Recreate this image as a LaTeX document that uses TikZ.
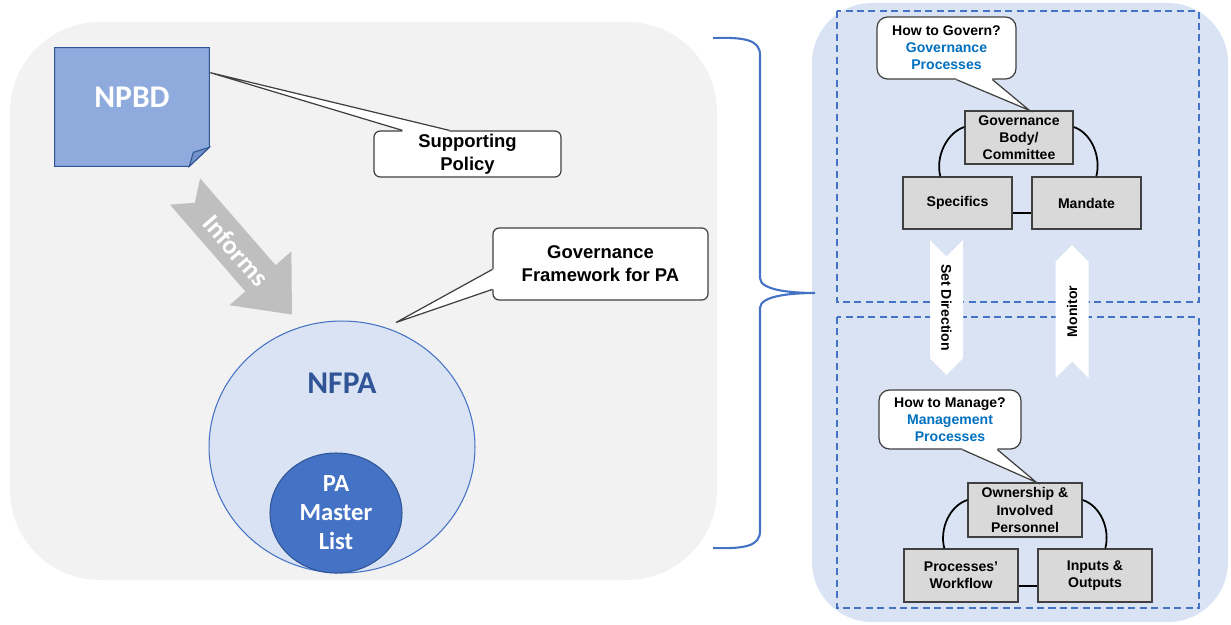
\documentclass[tikz,border=0pt]{standalone}
\usepackage{fontspec}
\setmainfont{Liberation Sans}
\newfontfamily\calibri{Carlito}
\usetikzlibrary{shapes.geometric,shapes.symbols,calc}

\definecolor{panelgray}{HTML}{F2F2F2}
\definecolor{panelblue}{HTML}{DAE3F3}
\definecolor{notefill}{HTML}{8FAADC}
\definecolor{foldblue}{HTML}{7391CB}
\definecolor{darkblue}{HTML}{2F5597}
\definecolor{midblue}{HTML}{4472C4}
\definecolor{procblue}{HTML}{0070C0}
\definecolor{boxgray}{HTML}{D9D9D9}
\definecolor{edgegray}{HTML}{404040}
\definecolor{arrowgray}{HTML}{BFBFBF}

\begin{document}
\begin{tikzpicture}[
    x=0.02cm, y=-0.02cm,
    callbox/.style={
        rectangle,
        draw=edgegray,
        line width=0.7pt,
        fill=white,
        rounded corners=3.5pt,
        inner sep=0pt,
        align=center
    },
    bigcall/.style={callbox, font=\bfseries\fontsize{10.5}{13}\selectfont},
    smallcall/.style={callbox, rounded corners=6pt, font=\bfseries\fontsize{8}{9.7}\selectfont},
    procbox/.style={
        rectangle,
        draw=edgegray,
        line width=0.8pt,
        fill=boxgray,
        inner sep=0pt,
        align=center,
        font=\bfseries\fontsize{8}{9.7}\selectfont
    },
    pointer/.style={draw=edgegray, line width=0.7pt, line join=miter},
    ring/.style={line width=1pt},
    flow/.style={signal, fill=white, draw=none, inner sep=0pt,
        minimum height=0.66cm, font=\bfseries\fontsize{8}{9.7}\selectfont},
    dashbox/.style={draw=midblue, line width=0.6pt, dash pattern=on 4pt off 2.5pt},
    brace/.style={draw=midblue, line width=1.2pt},
    bigword/.style={font=\calibri\bfseries\fontsize{18}{22}\selectfont},
]
\useasboundingbox (0,0) rectangle (1231,625);

% === PANELS ===
\fill[panelgray, rounded corners=1.8cm] (10,22) rectangle (717,580);
\fill[panelblue, rounded corners=1.2cm] (812,3) rectangle (1228,622);
\draw[dashbox] (837,11) rectangle (1199,302);
\draw[dashbox] (837,317) rectangle (1199,608);

% === LEFT SIDE ===
% note
\node[minimum width=3.08cm, minimum height=2.36cm, inner sep=0pt] (npbd) at (132,107) {};
\filldraw[fill=notefill, draw=darkblue, line width=0.6pt] (npbd.north west) -- (npbd.north east)
    -- ($(npbd.south east)+(0,-19)$) -- ($(npbd.south east)+(-20,0)$) -- (npbd.south west) -- cycle;
\filldraw[fill=foldblue, draw=darkblue, line width=0.6pt] ($(npbd.south east)+(0,-19)$)
    -- ($(npbd.south east)+(-20,0)$) -- ($(npbd.south east)+(-16,-14)$) -- cycle;
\node[bigword, text=white] (npbdlabel) at ($(npbd)+(0,-10)$) {NPBD};

% informs arrow
\begin{scope}[shift={(185,191.5)}, rotate=-49]
\fill[arrowgray] (0,-20) -- (115,-20) -- (115,-41) -- (163,0) -- (115,41) -- (115,20) -- (0,20) -- (15,0) -- cycle;
\node[font=\calibri\bfseries\fontsize{15}{18}\selectfont, text=white, rotate=-49] (informs) at (78,0) {Informs};
\end{scope}

% circles
\node[ellipse, minimum width=5.32cm, minimum height=5.04cm, fill=panelblue,
      draw=midblue, line width=0.6pt, inner sep=0pt] (nfpa) at (342,447) {};
\node[bigword, text=darkblue] (nfpalabel) at (342,383) {NFPA};
\node[ellipse, minimum width=2.64cm, minimum height=2.4cm, fill=midblue, draw=darkblue,
      line width=0.6pt, inner sep=0pt, align=center, text=white,
      font=\calibri\bfseries\fontsize{14}{16.5}\selectfont] (master) at (336,513) {PA\\Master\\List};

% callouts
\node[bigcall, minimum width=3.74cm, minimum height=0.92cm] (sup) at (467.5,154) {Supporting\\Policy};
\coordinate (suptip) at ($(npbd.north east)+(1,25)$);
\fill[white] ($(sup.north west)+(29,1.5)$) -- ($(sup.north west)+(29,0)$) -- (suptip)
    -- ($(sup.north west)+(76,0)$) -- ($(sup.north west)+(76,1.5)$) -- cycle;
\draw[pointer] ($(sup.north west)+(29,0)$) -- (suptip) -- ($(sup.north west)+(76,0)$);

\node[bigcall, minimum width=4.3cm, minimum height=1.44cm] (gfw) at (600.5,264) {Governance\\Framework for PA};
\coordinate (gfwtip) at ($(nfpa.north)+(54,2)$);
\fill[white] ($(gfw.north west)+(1.5,42)$) -- ($(gfw.north west)+(0,42)$) -- (gfwtip)
    -- ($(gfw.north west)+(0,62)$) -- ($(gfw.north west)+(1.5,62)$) -- cycle;
\draw[pointer] ($(gfw.north west)+(0,42)$) -- (gfwtip) -- ($(gfw.north west)+(0,62)$);

% brace
\draw[brace] (713,38) .. controls (745,37) and (760,40) .. (760,55) -- (760,278)
    .. controls (760,290) and (790,293) .. (815,293)
    .. controls (790,293) and (760,296) .. (760,308) -- (760,531)
    .. controls (760,546) and (745,549) .. (713,548);

% === RIGHT SIDE: GOVERNANCE ===
\node[procbox, minimum width=2.16cm, minimum height=1.06cm] (gov) at (1019,137.5) {Governance\\Body/\\Committee};
\node[procbox, minimum width=2.18cm, minimum height=1.04cm] (spec) at (957.5,203) {Specifics};
\node[procbox, minimum width=2.18cm, minimum height=1.04cm] (mand) at (1086.5,203) {Mandate};

\draw[ring] ($(gov.west)+(0,-10.5)$) .. controls +(-18,6) and +(-5,-19) .. ($(spec.north west)+(38,0)$);
\draw[ring] ($(gov.east)+(0,-10.5)$) .. controls +(18,6) and +(5,-19) .. ($(mand.north west)+(65,0)$);
\draw[ring] ($(spec.east)+(0,10)$) -- ($(mand.west)+(0,10)$);

\node[smallcall, minimum width=2.78cm, minimum height=1.24cm] (hgov) at (946.5,48)
    {How to Govern?\\\textcolor{procblue}{Governance}\\\textcolor{procblue}{Processes}};
\coordinate (hgovtip) at ($(gov.north west)+(65,0)$);
\fill[white] ($(hgov.south west)+(80,-1.5)$) -- ($(hgov.south west)+(80,0)$) -- (hgovtip)
    -- ($(hgov.south west)+(116,0)$) -- ($(hgov.south west)+(116,-1.5)$) -- cycle;
\draw[pointer] ($(hgov.south west)+(80,0)$) -- (hgovtip) -- ($(hgov.south west)+(116,0)$);

% === RIGHT SIDE: MANAGEMENT ===
\node[procbox, minimum width=2.28cm, minimum height=1.08cm] (owner) at (1025,510) {Ownership \&\\Involved\\Personnel};
\node[procbox, minimum width=2.28cm, minimum height=1.06cm] (wf) at (961,575.5) {Processes'\\Workflow};
\node[procbox, minimum width=2.28cm, minimum height=1.06cm] (io) at (1095,575.5) {Inputs \&\\Outputs};

\draw[ring] ($(owner.west)+(0,-10)$) .. controls +(-18,6) and +(-5,-19) .. ($(wf.north west)+(41,0)$);
\draw[ring] ($(owner.east)+(0,-10)$) .. controls +(18,6) and +(5,-19) .. ($(io.north west)+(68,0)$);
\draw[ring] ($(wf.east)+(0,10.5)$) -- ($(io.west)+(0,10.5)$);

\node[smallcall, minimum width=2.84cm, minimum height=1.18cm] (hman) at (950,419.5)
    {How to Manage?\\\textcolor{procblue}{Management}\\\textcolor{procblue}{Processes}};
\coordinate (hmantip) at ($(owner.north west)+(69,0)$);
\fill[white] ($(hman.south west)+(84,-1.5)$) -- ($(hman.south west)+(84,0)$) -- (hmantip)
    -- ($(hman.south west)+(119,0)$) -- ($(hman.south west)+(119,-1.5)$) -- cycle;
\draw[pointer] ($(hman.south west)+(84,0)$) -- (hmantip) -- ($(hman.south west)+(119,0)$);

% === DIRECTION ARROWS ===
\node[flow, rotate=-90, signal to=east, signal from=west, minimum width=2.7cm] (setdir) at (946.5,307.5) {Set Direction};
\node[flow, rotate=90, signal to=east, signal from=west, minimum width=2.66cm] (monitor) at (1072,311.5) {Monitor};

\end{tikzpicture}
\end{document}
